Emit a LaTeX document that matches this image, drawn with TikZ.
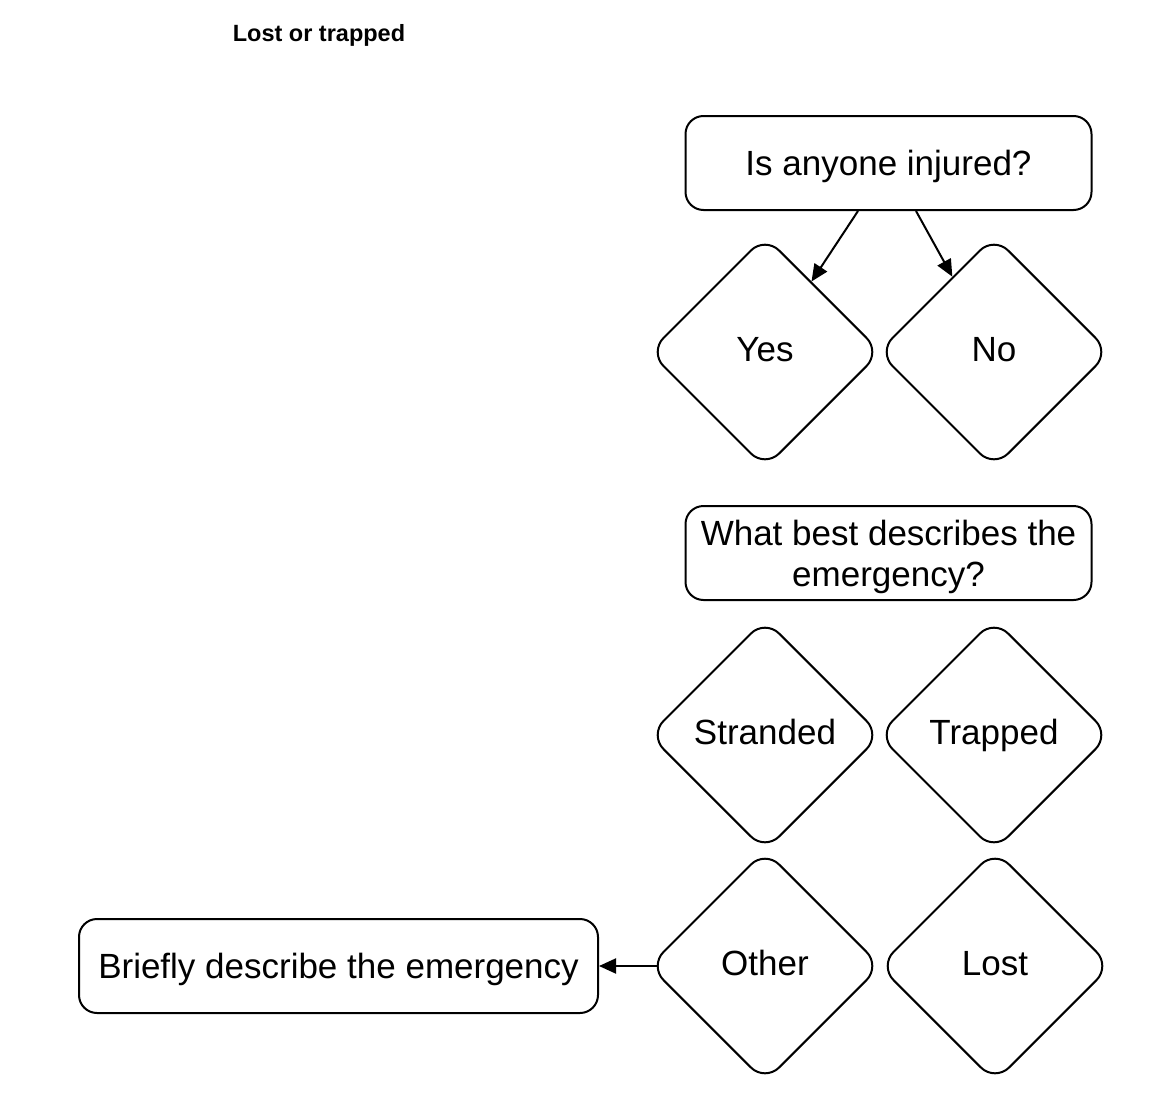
\documentclass[tikz,border=0pt]{standalone}
\usepackage{fontspec}
\setmainfont{Liberation Sans}
\usetikzlibrary{shapes.geometric,arrows.meta}
\tikzset{
  boxbase/.style={draw, line width=2pt, rounded corners=18pt, minimum height=94pt, inner sep=0pt,
    font=\fontsize{35}{41}\selectfont, align=center},
  qbox/.style={boxbase, text height=25pt, text depth=0pt},
  choice/.style={draw, line width=2pt, diamond, aspect=1, minimum width=232pt, minimum height=232pt,
    inner sep=0pt, rounded corners=20pt, font=\fontsize{35}{41}\selectfont, text height=25pt, text depth=7pt},
  link/.style={line width=2pt, -{Triangle[length=17pt,width=15pt]}},
}
\begin{document}
\begin{tikzpicture}[x=1pt,y=-1pt]
\useasboundingbox (0,0) rectangle (1162,1108);
\node[font=\fontsize{23.5}{28}\selectfont\bfseries] (title) at (319,35) {Lost or trapped};
\node[qbox, minimum width=406pt] (q1) at (888.5,163) {Is anyone injured?};
\node[choice] (yes) at (765,352) {Yes};
\node[choice] (no) at (994,352) {No};
\node[boxbase, minimum width=406pt] (q2) at (888.5,553) {\rule{0pt}{33.5pt}What best describes the\\emergency?};
\node[choice] (stranded) at (765,735) {Stranded};
\node[choice] (trapped) at (994,735) {Trapped};
\node[choice] (other) at (765,966) {Other};
\node[choice] (lost) at (995,966) {Lost};
\node[qbox, minimum width=519pt] (desc) at (338.5,966) {Briefly describe the emergency};
\draw[link] ([xshift=-30.5pt]q1.south) -- (yes);
\draw[link] ([xshift=27.5pt]q1.south) -- (no);
\draw[link] ([xshift=8.5pt]other.west) -- (desc.east);
\end{tikzpicture}
\end{document}
